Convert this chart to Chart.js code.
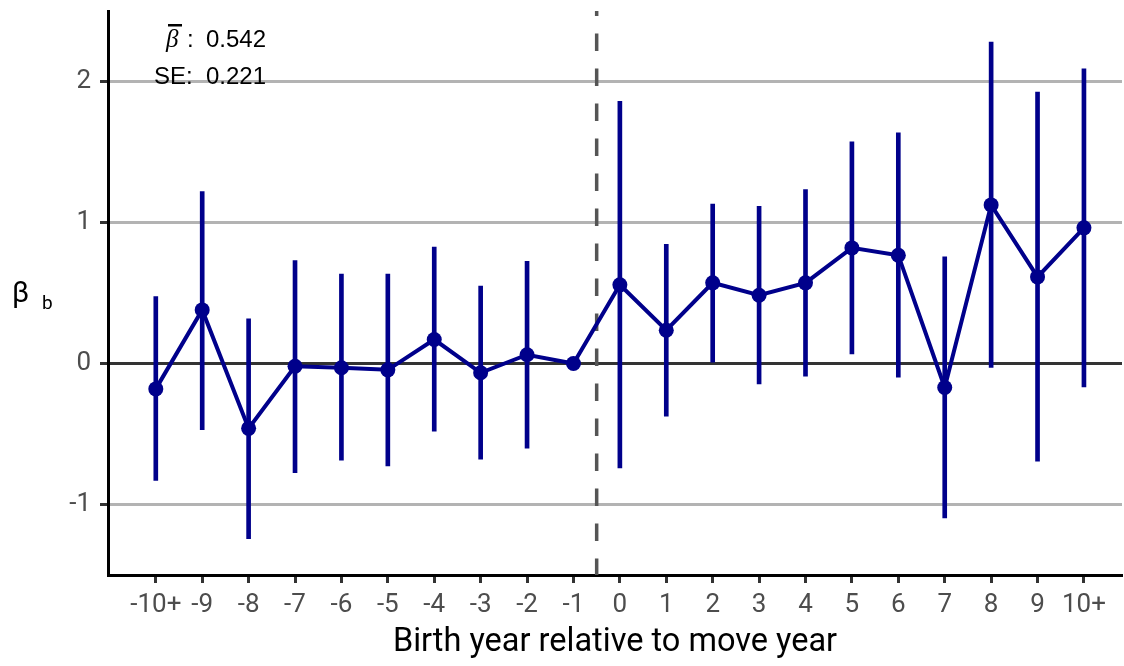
<!DOCTYPE html>
<html>
<head>
<meta charset="utf-8">
<script src="https://cdn.jsdelivr.net/npm/chart.js@4.4.0/dist/chart.umd.min.js"></script>
<style>
  html, body { margin: 0; padding: 0; background: #fff; }
  #wrap { width: 1124px; height: 666px; position: relative; }
</style>
</head>
<body>
<div id="wrap"><canvas id="eventChart"></canvas></div>
<script>
// Event-study estimates by birth year relative to move year
const categories = ['-10+', '-9', '-8', '-7', '-6', '-5', '-4', '-3', '-2', '-1',
                    '0', '1', '2', '3', '4', '5', '6', '7', '8', '9', '10+'];
const estimates = [-0.18, 0.38, -0.46, -0.02, -0.03, -0.045, 0.17, -0.066, 0.062, 0,
                   0.558, 0.236, 0.572, 0.484, 0.572, 0.82, 0.768, -0.17, 1.125, 0.614, 0.962];
const ciUpper = [0.475, 1.22, 0.317, 0.73, 0.634, 0.634, 0.826, 0.549, 0.724, null,
                 1.86, 0.846, 1.13, 1.115, 1.234, 1.572, 1.636, 0.756, 2.279, 1.925, 2.09];
const ciLower = [-0.83, -0.47, -1.243, -0.775, -0.686, -0.727, -0.48, -0.678, -0.60, null,
                 -0.74, -0.374, 0.009, -0.145, -0.09, 0.068, -0.097, -1.095, -0.028, -0.693, -0.166];
const yTicks = [-1, 0, 1, 2];
const meanBeta = '0.542';
const meanSE = '0.221';

const navy = '#00008b';

// -1 is the omitted reference year, so it has no interval
const intervals = [];
categories.forEach((c, i) => {
    if (ciLower[i] !== null) intervals.push({ x: i, y: [ciLower[i], ciUpper[i]] });
});
const points = estimates.map((v, i) => ({ x: i, y: v }));

// dashed line between -1 and 0, plus the summary text and y title
const extras = {
    id: 'extras',
    beforeDatasetsDraw(chart) {
        const { ctx, chartArea, scales } = chart;
        const x = scales.x.getPixelForValue(9.5);
        ctx.save();
        ctx.beginPath();
        ctx.rect(chartArea.left, chartArea.top, chartArea.right - chartArea.left, chartArea.bottom - chartArea.top);
        ctx.clip();
        ctx.strokeStyle = '#555555';
        ctx.lineWidth = 3.5;
        ctx.setLineDash([17.5, 17.5]);
        ctx.beginPath();
        ctx.moveTo(x, chartArea.top - 12.5);
        ctx.lineTo(x, chartArea.bottom);
        ctx.stroke();
        ctx.restore();
    },
    afterDraw(chart) {
        const { ctx, chartArea } = chart;
        const l = chartArea.left;
        ctx.save();
        ctx.fillStyle = '#000';
        ctx.textBaseline = 'alphabetic';

        // beta-bar row
        ctx.font = 'italic 25px "Liberation Serif"';
        ctx.textAlign = 'left';
        ctx.fillText('\u03B2', l + 58, 47);
        ctx.fillRect(l + 60, 24, 14, 2.5);
        ctx.font = '24px "Liberation Sans"';
        ctx.fillText(':', l + 79, 47);
        ctx.fillText(meanBeta, l + 98, 47);

        // SE row
        ctx.fillText('SE:', l + 46, 84);
        ctx.fillText(meanSE, l + 98, 84);

        // y axis title with subscript
        ctx.font = '29px Roboto';
        ctx.fillText('\u03B2', 12, 302);
        ctx.font = '19px Roboto';
        ctx.fillText('b', 42, 309);
        ctx.restore();
    }
};

new Chart(document.getElementById('eventChart'), {
    data: {
        datasets: [{
            type: 'line',
            data: points,
            borderColor: navy,
            backgroundColor: navy,
            borderWidth: 4,
            pointRadius: 7.5,
            pointBorderWidth: 0,
            pointBackgroundColor: navy,
            tension: 0,
            order: 1
        }, {
            type: 'bar',
            data: intervals,
            backgroundColor: navy,
            borderWidth: 0,
            barThickness: 4,
            grouped: false,
            order: 2
        }]
    },
    options: {
        responsive: true,
        maintainAspectRatio: false,
        animation: false,
        layout: { autoPadding: false, padding: { top: 11, right: 2, left: 0, bottom: 0 } },
        plugins: {
            legend: { display: false },
            tooltip: { enabled: false }
        },
        scales: {
            x: {
                type: 'linear',
                offset: false,
                min: -1.03,
                max: 20.82,
                afterBuildTicks: (scale) => {
                    scale.ticks = categories.map((c, i) => ({ value: i }));
                },
                afterFit: (scale) => {
                    scale.height = 91;
                    scale.paddingLeft = 0;
                    scale.paddingRight = 0;
                },
                ticks: {
                    callback: (v) => categories[v],
                    autoSkip: false,
                    maxRotation: 0,
                    color: '#4d4d4d',
                    font: { family: 'Roboto', size: 26 },
                    padding: 7
                },
                grid: {
                    offset: false,
                    drawOnChartArea: false,
                    tickLength: 8,
                    tickColor: '#333333',
                    tickWidth: 3
                },
                border: { color: '#000', width: 3 },
                title: {
                    display: true,
                    text: 'Birth year relative to move year',
                    color: '#000',
                    font: { family: 'Roboto', size: 32.5 },
                    padding: { top: 4 }
                }
            },
            y: {
                min: -1.5,
                max: 2.5,
                afterBuildTicks: (scale) => {
                    scale.ticks = yTicks.map(v => ({ value: v }));
                },
                afterFit: (scale) => {
                    scale.width = 108;
                    scale.paddingTop = 0;
                    scale.paddingBottom = 0;
                },
                ticks: {
                    color: '#4d4d4d',
                    font: { family: 'Roboto', size: 26 },
                    padding: 9
                },
                grid: {
                    color: (c) => (c.tick && c.tick.value === 0) ? '#333333' : '#b3b3b3',
                    lineWidth: 3,
                    tickLength: 8,
                    tickColor: '#333333',
                    tickWidth: 3
                },
                border: { color: '#000', width: 3 }
            }
        }
    },
    plugins: [extras]
});
</script>
</body>
</html>
